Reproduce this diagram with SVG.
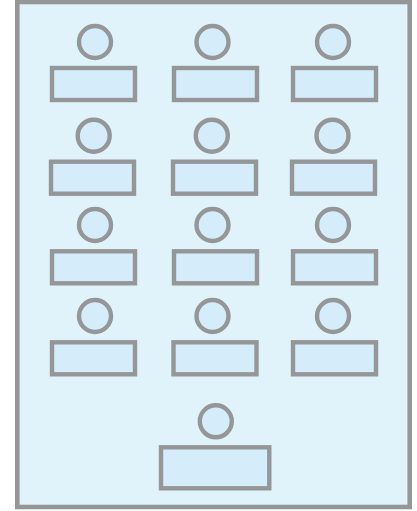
<svg xmlns="http://www.w3.org/2000/svg" width="417" height="511" viewBox="0 0 417 511">
<style>
.p{fill:#e0f3fb;stroke:#959698;stroke-width:4.6}
.c,.r{fill:#d5ecfb;stroke:#959698;stroke-width:4.4}
</style>
<rect width="417" height="511" fill="#fff"/>
<rect id="frame" class="p" x="17.3" y="2" width="392.4" height="505"/>
<g id="n1"><circle class="c" cx="95" cy="42" r="16"/><rect class="r" x="52" y="68" width="83" height="32"/></g>
<g id="n2"><circle class="c" cx="212.5" cy="42" r="16"/><rect class="r" x="174" y="68" width="83" height="32"/></g>
<g id="n3"><circle class="c" cx="333" cy="42" r="16"/><rect class="r" x="293" y="68" width="83" height="32"/></g>
<g id="n4"><circle class="c" cx="93.7" cy="135.7" r="16"/><rect class="r" x="51" y="161.7" width="83" height="32"/></g>
<g id="n5"><circle class="c" cx="211.8" cy="135.7" r="16"/><rect class="r" x="173" y="161.7" width="83" height="32"/></g>
<g id="n6"><circle class="c" cx="332.5" cy="135.7" r="16"/><rect class="r" x="292" y="161.7" width="83" height="32"/></g>
<g id="n7"><circle class="c" cx="95" cy="225" r="16"/><rect class="r" x="52" y="251.3" width="83" height="32"/></g>
<g id="n8"><circle class="c" cx="212.5" cy="225" r="16"/><rect class="r" x="174" y="251.3" width="83" height="32"/></g>
<g id="n9"><circle class="c" cx="333" cy="225" r="16"/><rect class="r" x="293" y="251.3" width="83" height="32"/></g>
<g id="n10"><circle class="c" cx="95" cy="316" r="16"/><rect class="r" x="52" y="342.3" width="83" height="32"/></g>
<g id="n11"><circle class="c" cx="212.5" cy="316" r="16"/><rect class="r" x="173.5" y="342.3" width="83" height="32"/></g>
<g id="n12"><circle class="c" cx="333" cy="316" r="16"/><rect class="r" x="293" y="342.3" width="83" height="32"/></g>
<g id="n13"><circle class="c" cx="215.8" cy="421.3" r="16"/><rect class="r" x="161" y="447.3" width="108.3" height="41"/></g>
<g id="connectors"></g>
</svg>
